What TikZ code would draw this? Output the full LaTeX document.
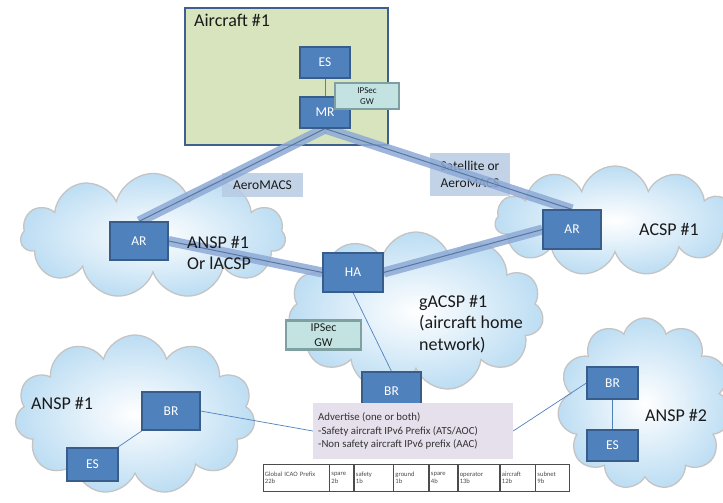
\documentclass[tikz,border=0pt]{standalone}
\usepackage{fontspec}
\setmainfont{Carlito}
\usetikzlibrary{shapes.symbols}
\definecolor{boxblue}{HTML}{4F81BD}
\definecolor{boxedge}{HTML}{385D8A}
\definecolor{acgreen}{HTML}{D7E4BD}
\definecolor{acedge}{HTML}{3F5F8F}
\definecolor{gwfill}{HTML}{C3E3E3}
\definecolor{gwedge}{HTML}{7FA0A0}
\definecolor{bandc}{HTML}{8EAAD6}
\definecolor{bandline}{HTML}{56779F}
\definecolor{cloudedge}{HTML}{C4C4C4}
\definecolor{cloudout}{HTML}{BCDDF3}
\definecolor{lblfill}{HTML}{B8CCE4}
\definecolor{advfill}{HTML}{E5E0EC}
\definecolor{txt}{HTML}{1A1A1A}
\pgfdeclarelayer{clouds}
\pgfdeclarelayer{links}
\pgfsetlayers{clouds,links,main}
\tikzset{
  netbox/.style={draw=boxedge, line width=1.2pt, fill=boxblue, text=white,
    font=\fontsize{13.5}{15}\selectfont, inner sep=0pt},
  gwbox/.style={draw=gwedge, line width=2.5pt, fill=gwfill, text=txt, align=center, inner sep=0pt},
  cloudn/.style={cloud, cloud puffs=11, cloud ignores aspect, draw=cloudedge, line width=1.3pt,
    inner color=white, outer color=cloudout},
  band/.style={draw=bandline, line width=1pt, preaction={draw=bandc, line width=10pt, opacity=0.85}},
  thin/.style={draw=boxblue, line width=0.7pt},
  lbl/.style={text=txt, font=\fontsize{18}{21.5}\selectfont, align=left, inner sep=0pt},
  linklbl/.style={fill=lblfill, fill opacity=0.85, text opacity=1, text=txt,
    font=\fontsize{13.5}{16.5}\selectfont, align=center, inner sep=0pt},
  tcell/.style={draw=black!70, line width=0.5pt, fill=white, font=\fontsize{6.6}{7.5}\selectfont,
    align=left, text=black!70, minimum height=27, inner sep=2pt, anchor=north west, text width=#1}
}
\begin{document}
\begin{tikzpicture}[x=1pt,y=-1pt]
\useasboundingbox (0,0) rectangle (723,503);
\begin{pgfonlayer}{clouds}
  \fill[white] (0,0) rectangle (723,503);
  \node[cloudn, minimum width=265, minimum height=125] (cl1) at (153,236) {};
  \node[cloudn, minimum width=240, minimum height=110] (cl2) at (615,221) {};
  \node[cloudn, minimum width=255, minimum height=160] (cl3) at (416,312) {};
  \node[cloudn, minimum width=240, minimum height=160] (cl4) at (135,415) {};
  \node[cloudn, minimum width=175, minimum height=172] (cl5) at (645,404) {};
  \node[draw=acedge, line width=1.5pt, fill=acgreen, minimum width=203, minimum height=137, inner sep=0pt] (ac) at (286.5,76.5) {};
  \node[lbl, anchor=north west] (aclbl) at (194,14) {Aircraft \#1};
  \node[linklbl, minimum width=81, minimum height=24] (l1) at (262.5,185) {AeroMACS};
  \node[linklbl, minimum width=80, minimum height=43] (l2) at (470,174.5) {Satellite or\\AeroMACS};
\end{pgfonlayer}

\node[netbox, minimum width=50, minimum height=31] (esa) at (325,62.5) {ES};
\node[netbox, minimum width=50, minimum height=31] (mr) at (325,112.5) {MR};
\node[gwbox, minimum width=64, minimum height=26, font=\fontsize{9}{11}\selectfont] (gwa) at (367,96) {IPSec\\GW};
\node[netbox, minimum width=58, minimum height=38] (arl) at (139,241) {AR};
\node[netbox, minimum width=60, minimum height=39] (ha) at (353,272.5) {HA};
\node[netbox, minimum width=58, minimum height=39] (arr) at (572,229.5) {AR};
\node[gwbox, minimum width=75, minimum height=29, font=\fontsize{12}{14.5}\selectfont] (gwc) at (323.5,335) {IPSec\\GW};
\node[netbox, minimum width=59, minimum height=38] (brc) at (391.5,391) {BR};
\node[netbox, minimum width=58, minimum height=38] (brl) at (171,411) {BR};
\node[netbox, minimum width=51, minimum height=33] (esl) at (92.5,464.5) {ES};
\node[netbox, minimum width=51, minimum height=32] (brr) at (612.5,383) {BR};
\node[netbox, minimum width=51, minimum height=31] (esr) at (612.5,445.5) {ES};

\node[fill=advfill, minimum width=200, minimum height=56, inner sep=0pt] (adv) at (413,431) {};
\node[text=black!80, font=\fontsize{10.8}{13.3}\selectfont, align=left, anchor=west, inner sep=0pt] (advt) at (318,431)
  {Advertise (one or both)\\-Safety aircraft IPv6 Prefix (ATS/AOC)\\-Non safety aircraft IPv6 prefix (AAC)};

\node[lbl, anchor=north west] (t1) at (187,236) {ANSP \#1\\Or lACSP};
\node[lbl, anchor=west] (t2) at (639,229) {ACSP \#1};
\node[lbl, anchor=north west] (t3) at (419,295) {gACSP \#1\\(aircraft home\\network)};
\node[lbl, anchor=west] (t4) at (31,403) {ANSP \#1};
\node[lbl, anchor=west] (t5) at (645,415) {ANSP \#2};

\node[tcell=62pt] (c1) at (262.7,464) {Global ICAO Prefix\\22b};
\node[tcell=20pt] (c2) at (c1.north east) {spare\\2b};
\node[tcell=35pt] (c3) at (c2.north east) {safety\\1b};
\node[tcell=31pt] (c4) at (c3.north east) {ground\\1b};
\node[tcell=24.3pt] (c5) at (c4.north east) {spare\\4b};
\node[tcell=37.7pt] (c6) at (c5.north east) {operator\\13b};
\node[tcell=31pt] (c7) at (c6.north east) {aircraft\\12b};
\node[tcell=29.3pt] (c8) at (c7.north east) {subnet\\9b};

\begin{pgfonlayer}{links}
  \draw[band] (mr.south) -- (arl.north);
  \draw[band] (mr.south) -- (arr.north);
  \draw[band] (arl.east) -- (ha.west);
  \draw[band] (ha.east) -- (arr.west);
  \draw[thin] (esa) -- (mr);
  \draw[thin] (ha.south) -- (brc.north);
  \draw[thin] (brl.east) -- (adv.west);
  \draw[thin] (adv.east) -- (brr.west);
  \draw[thin] (brl) -- (esl);
  \draw[thin] (brr) -- (esr);
\end{pgfonlayer}
\end{tikzpicture}
\end{document}
